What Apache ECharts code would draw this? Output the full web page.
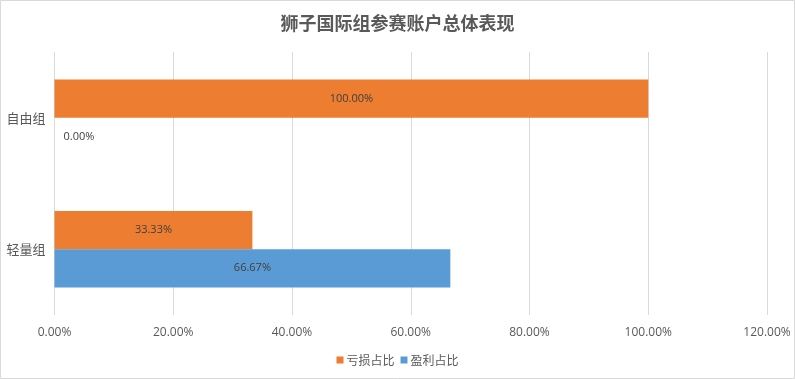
<!DOCTYPE html>
<html><head><meta charset="utf-8">
<script src="https://cdn.jsdelivr.net/npm/echarts@6/dist/echarts.min.js"></script>
<style>html,body{margin:0;padding:0;background:#fff}#c{width:795px;height:379px}</style>
</head><body><div id="c"></div>
<script>
const title = '狮子国际组参赛账户总体表现';
const categories = ['轻量组', '自由组'];
const lossName = '亏损占比';
const profitName = '盈利占比';
const lossValues = [33.33, 100.00];
const profitValues = [66.67, 0.00];
const xTicks = [0, 20, 40, 60, 80, 100, 120];

const chart = echarts.init(document.getElementById('c'));
function mk(vals) {
  return vals.map(v => v === 0 ? {value: v, label: {position: 'right', distance: 9}} : {value: v});
}
const lbl = {show: true, position: 'inside', color: '#404040', fontSize: 11,
  fontFamily: 'Open Sans, sans-serif', formatter: p => p.value.toFixed(2) + '%'};
chart.setOption({
  animation: false,
  graphic: [{type: 'rect', shape: {x: 0.5, y: 0.5, width: 794, height: 378},
    style: {fill: 'none', stroke: '#d9d9d9', lineWidth: 1}, silent: true}],
  title: {text: title, left: 'center', top: 9,
    textStyle: {fontSize: 18, fontWeight: 'bold', color: '#595959', fontFamily: 'Noto Sans CJK SC'}},
  legend: {data: [lossName, profitName], bottom: 8, left: 'center', itemWidth: 7, itemHeight: 7,
    itemGap: 6, icon: 'rect',
    textStyle: {fontSize: 12, color: '#595959', fontFamily: 'Noto Sans CJK SC', padding: [0, 0, 0, -2]}},
  grid: {left: 54.5, right: 28, top: 52, bottom: 64, containLabel: false},
  xAxis: {type: 'value', min: xTicks[0], max: xTicks[xTicks.length - 1], interval: xTicks[1] - xTicks[0],
    axisLine: {show: false}, axisTick: {show: false},
    splitLine: {lineStyle: {color: '#d9d9d9'}},
    axisLabel: {color: '#595959', fontSize: 12, margin: 12, fontFamily: 'Open Sans, sans-serif',
      formatter: v => v.toFixed(2) + '%'}},
  yAxis: {type: 'category', data: categories,
    axisLine: {show: false}, axisTick: {show: false},
    axisLabel: {color: '#595959', fontSize: 13, margin: 9, fontFamily: 'Noto Sans CJK SC'}},
  series: [
    {name: lossName, type: 'bar', data: mk(lossValues), barCategoryGap: '42%', barGap: '0%',
      itemStyle: {color: '#ED7D31'}, label: lbl},
    {name: profitName, type: 'bar', data: mk(profitValues), barCategoryGap: '42%', barGap: '0%',
      itemStyle: {color: '#5B9BD5'}, label: lbl}
  ]
});
</script></body></html>
